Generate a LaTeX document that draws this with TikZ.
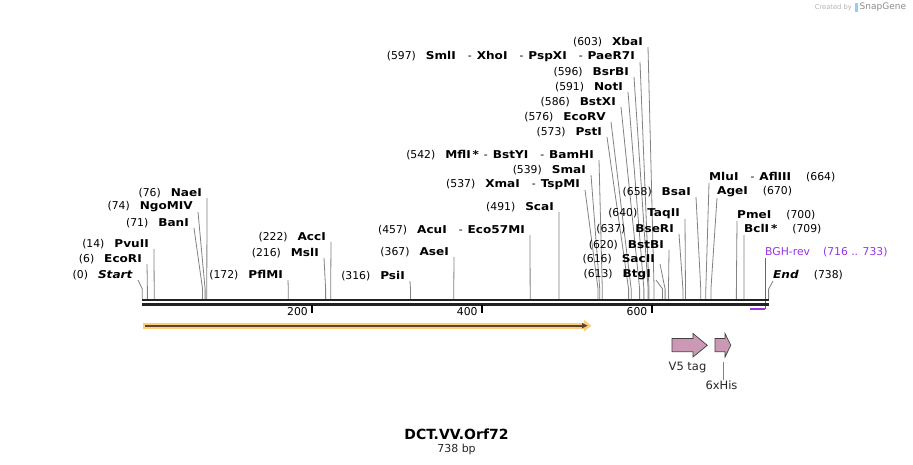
\documentclass[tikz,border=0pt]{standalone}
\usepackage{fontspec}
\setmainfont{DejaVu Sans}
\newfontfamily\siteFont{DejaVu Sans}[BoldFeatures={FakeStretch=1.12},BoldItalicFeatures={FakeStretch=1.12}]
\usetikzlibrary{positioning}
\definecolor{siteGray}{RGB}{130,130,130}
\definecolor{strandBlack}{RGB}{34,34,34}
\definecolor{orfOrange}{RGB}{255,204,120}
\definecolor{orfDark}{RGB}{88,70,48}
\definecolor{tagPink}{RGB}{204,153,180}
\definecolor{primerPurple}{RGB}{153,51,230}
\definecolor{logoBlue}{RGB}{150,205,240}
\newcommand{\enzSep}{\hspace{12pt}-\hspace{5pt}}
\newcommand{\siteLeft}[5]{%%
  \node[labelStyle,anchor=east] (#1) at (#4,#5) {(#2)\hspace{10pt}#3};
  \coordinate (#1Cut) at ({\xzero+\bpScale*#2},\ystrand);
  \draw[siteStyle] ([xshift=5pt,yshift=-5pt]#1.east) -- ([yshift=10pt]#1Cut) -- (#1Cut);
}
\newcommand{\siteRight}[5]{%%
  \node[labelStyle,anchor=west] (#1) at (#4,#5) {#3\hspace{15pt}(#2)};
  \coordinate (#1Cut) at ({\xzero+\bpScale*#2},\ystrand);
  \draw[siteStyle] ([yshift=-6pt]#1.west) -- ([yshift=10pt]#1Cut) -- (#1Cut);
}
\newcommand{\tagArrow}[4]{%%
  \draw[tagStyle] (#2,338.5) -- (#3,338.5) -- (#3,333.5) -- (#4,345.3)
    -- (#3,357) -- (#3,351.7) -- (#2,351.7) -- cycle;
  \coordinate (#1) at ({(#2+#4)/2},357);
}

\begin{document}
\begin{tikzpicture}[x=1pt,y=-1pt,%%
  labelStyle/.style={inner sep=0pt,font=\siteFont\fontsize{10.8}{12}\selectfont},%%
  siteStyle/.style={siteGray,line width=0.8pt},%%
  strandStyle/.style={strandBlack,line width=2.4pt},%%
  tickStyle/.style={black,line width=2pt},%%
  tagStyle/.style={fill=tagPink,draw=black!75,line width=0.7pt,line join=miter},%%
  featureText/.style={inner sep=0pt,font=\fontsize{11.5}{13}\selectfont,black!85}%%
]
\fill[white] (0,0) rectangle (913,465);
\useasboundingbox (0,0) rectangle (913,465);
%%
\pgfmathsetmacro{\xzero}{142.3}
\pgfmathsetmacro{\bpScale}{0.8487}
\pgfmathsetmacro{\ystrand}{299}
\pgfmathsetmacro{\xlast}{\xzero+\bpScale*738}
%%
%% Sites on the left.
\siteLeft{startSite}{0}{\textbf{\textit{Start}}}{133}{275}
\siteLeft{ecoRI}{6}{\textbf{EcoRI}}{142}{259}
\siteLeft{pvuII}{14}{\textbf{PvuII}}{149}{244}
\siteLeft{banI}{71}{\textbf{BanI}}{189}{223}
\siteLeft{ngoMIV}{74}{\textbf{NgoMIV}}{193}{207}
\siteLeft{naeI}{76}{\textbf{NaeI}}{202}{193}
\siteLeft{pflMI}{172}{\textbf{PflMI}}{283}{275}
\siteLeft{mslI}{216}{\textbf{MslI}}{319}{253}
\siteLeft{accI}{222}{\textbf{AccI}}{326}{237}
\siteLeft{psiI}{316}{\textbf{PsiI}}{405}{276}
\siteLeft{aseI}{367}{\textbf{AseI}}{449}{252}
\siteLeft{acuI}{457}{\textbf{AcuI}\enzSep\textbf{Eco57MI}}{525}{230}
\siteLeft{scaI}{491}{\textbf{ScaI}}{554}{207}
\siteLeft{xmaI}{537}{\textbf{XmaI}\enzSep\textbf{TspMI}}{580}{185}
\siteLeft{smaI}{539}{\textbf{SmaI}}{586}{170}
\siteLeft{mflI}{542}{\textbf{MflI\,*}\hspace{5pt}-\hspace{5pt}\textbf{BstYI}\enzSep\textbf{BamHI}}{594}{155}
\siteLeft{pstI}{573}{\textbf{PstI}}{602}{132}
\siteLeft{ecoRV}{576}{\textbf{EcoRV}}{606}{117}
\siteLeft{bstXI}{586}{\textbf{BstXI}}{616}{102}
\siteLeft{notI}{591}{\textbf{NotI}}{623}{87}
\siteLeft{bsrBI}{596}{\textbf{BsrBI}}{629}{72}
\siteLeft{smlI}{597}{\textbf{SmlI}\enzSep\textbf{XhoI}\enzSep\textbf{PspXI}\enzSep\textbf{PaeR7I}}{635}{57}
\siteLeft{xbaI}{603}{\textbf{XbaI}}{643}{42}
\siteLeft{btgI}{613}{\textbf{BtgI}}{651}{275}
\siteLeft{sacII}{616}{\textbf{SacII}}{655}{259}
\siteLeft{bstBI}{620}{\textbf{BstBI}}{664}{245}
\siteLeft{bseRI}{637}{\textbf{BseRI}}{674}{229}
\siteLeft{taqII}{640}{\textbf{TaqII}}{680}{214}
\siteLeft{bsaI}{658}{\textbf{BsaI}}{691}{192}
%%
%% Sites on the right.
\siteRight{mluI}{664}{\textbf{MluI}\enzSep\textbf{AflIII}}{709}{177}
\siteRight{ageI}{670}{\textbf{AgeI}}{717}{192}
\siteRight{pmeI}{700}{\textbf{PmeI}}{737}{215}
\siteRight{bclI}{709}{\textbf{BclI\,*}}{744}{229}
\siteRight{endSite}{738}{\textbf{\textit{End}}}{773}{275}
%%
%% Primer BGH-rev.
\node[labelStyle,primerPurple,anchor=west] (bghRev) at (765,252) {BGH-rev\hspace{13pt}(716 .. 733)};
\coordinate (bghStart) at ({\xzero+\bpScale*716},308.5);
\coordinate (bghEnd) at ({\xzero+\bpScale*733},308.5);
\draw[primerPurple,line width=0.9pt] ([yshift=-6pt]bghRev.west) -- (bghRev.west |- bghEnd);
\draw[primerPurple,line width=2pt] (bghStart) -- ([xshift=1pt]bghEnd);
%%
%% The two strands.
\coordinate (seqStart) at (\xzero,300);
\coordinate (seqEnd) at (\xlast,300);
\draw[strandStyle] (seqStart) -- (seqEnd);
\draw[strandStyle,line width=2.2pt] ([yshift=-4.4pt]seqStart) -- ([yshift=-4.4pt]seqEnd);
\foreach \tick in {200,400,600}{%%
  \draw[tickStyle] ({\xzero+\bpScale*\tick},305) -- ({\xzero+\bpScale*\tick},312.8);
  \node[labelStyle,anchor=east] (tick\tick) at ({\xzero+\bpScale*\tick-4},311.5) {\tick};
}
%%
%% Open reading frame.
\coordinate (orfStart) at (143.3,325.7);
\coordinate (orfHead) at (584,325.7);
\coordinate (orfTip) at (591.5,325.7);
\fill[orfOrange] ([yshift=2.8pt]orfStart) rectangle ([yshift=-2.8pt]orfHead);
\fill[orfOrange] ([yshift=5.8pt]orfHead) -- (orfTip) -- ([yshift=-5.8pt]orfHead) -- cycle;
\draw[orfDark,line width=1.8pt] ([xshift=1.5pt]orfStart) -- ([xshift=-1pt]orfHead);
\fill[orfDark] ([xshift=-2pt,yshift=2.8pt]orfHead) -- ([xshift=3.5pt]orfHead) -- ([xshift=-2pt,yshift=-2.8pt]orfHead) -- cycle;
%%
%% Features.
\tagArrow{v5Arrow}{672}{693}{707.3}
\tagArrow{hisArrow}{715}{725}{730.8}
\node[featureText] (v5Label) at (687.5,368) {V5 tag};
\node[featureText] (hisLabel) at (721.5,385) {6xHis};
\draw[siteGray,line width=0.6pt] ([yshift=-5pt]hisArrow) -- (hisArrow |- hisLabel.north);
%%
%% Title.
\node[font=\bfseries\fontsize{14}{16}\selectfont] (mapTitle) at (456.5,434) {DCT.VV.Orf72};
\node[font=\fontsize{11}{13}\selectfont,black!85] (mapLength) at (456.5,449.5) {738 bp};
%%
\node[anchor=east,inner sep=0pt,font=\fontsize{6.7}{8}\selectfont,black!30] (createdBy) at (852,7.5) {Created by};
\fill[logoBlue] (854.5,3.5) rectangle (857.5,12);
\node[anchor=west,inner sep=0pt,font=\fontsize{9}{10}\selectfont,black!45] (snapGene) at (859.5,7.5) {SnapGene};
\end{tikzpicture}
\end{document}
